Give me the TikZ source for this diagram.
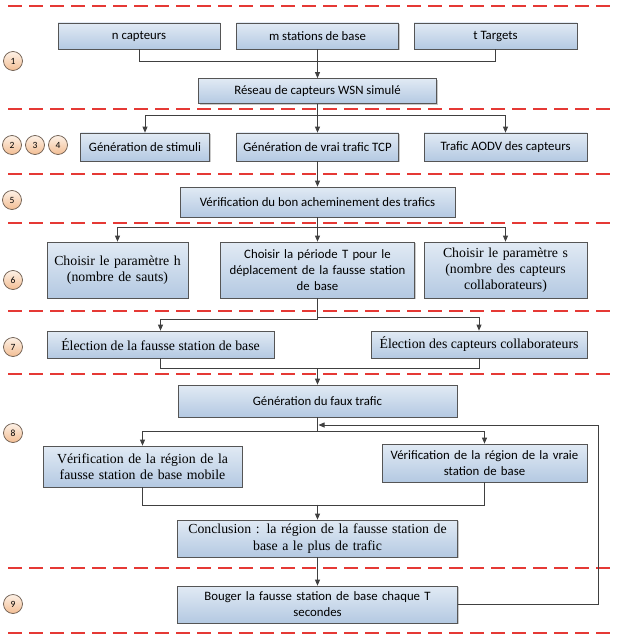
\documentclass[tikz,border=0pt]{standalone}
\usepackage{fontspec}
\setmainfont{Liberation Serif}
\newfontfamily\calfont{Carlito}
\usetikzlibrary{arrows.meta,shadows}
\definecolor{boxtop}{HTML}{E1EAF4}
\definecolor{boxbot}{HTML}{B4C9E2}
\definecolor{boxline}{HTML}{555555}
\definecolor{circtop}{HTML}{FDF1E6}
\definecolor{circbot}{HTML}{F3BE94}
\definecolor{circline}{HTML}{6B5B4E}
\definecolor{dashred}{HTML}{E53935}
\definecolor{conn}{HTML}{404040}
\begin{document}
\begin{tikzpicture}[x=1pt,y=-1pt,
  box/.style={draw=boxline,line width=0.7pt,top color=boxtop,bottom color=boxbot,
    inner sep=2pt,align=center,
    drop shadow={shadow xshift=1.2pt,shadow yshift=-1.2pt,opacity=0.35,fill=black!60}},
  sbox/.style={box,font=\calfont\fontsize{12.8}{16}\selectfont},
  rbox/.style={box,font=\fontsize{13.8}{16.3}\selectfont},
  num/.style={circle,draw=circline,line width=0.7pt,top color=circtop,bottom color=circbot,
    minimum size=19pt,inner sep=0pt,font=\calfont\fontsize{9.5}{10}\selectfont},
  sep/.style={draw=dashred,line width=1.6pt,dash pattern=on 14pt off 7pt},
  link/.style={draw=conn,line width=0.8pt},
  arr/.style={link,-{Triangle[length=6pt,width=5pt]}}]
\useasboundingbox (0,0) rectangle (618,639);
% separators
\foreach \yy in {6,109,174,223,311,374,568,633}
  \draw[sep] (8,\yy) -- (612,\yy);
% step numbers
\node[num] (c1) at (13,61) {1};
\node[num] (c2) at (12,145) {2};
\node[num] (c3) at (35,145) {3};
\node[num] (c4) at (58,145) {4};
\node[num] (c5) at (12,200) {5};
\node[num] (c6) at (13,280) {6};
\node[num] (c7) at (13,347) {7};
\node[num] (c8) at (13,433) {8};
\node[num] (c9) at (13,604) {9};
% boxes
\node[sbox,minimum width=162pt,minimum height=26pt] (nc) at (139,36) {n capteurs};
\node[sbox,minimum width=162pt,minimum height=26pt] (ms) at (317.5,36) {m stations de base};
\node[sbox,minimum width=163pt,minimum height=26pt] (tt) at (495.5,36) {t Targets};
\node[sbox,minimum width=238pt,minimum height=25pt] (res) at (317.5,91) {Réseau de capteurs WSN simulé};
\node[sbox,minimum width=129pt,minimum height=28pt] (stim) at (145,147) {Génération de stimuli};
\node[sbox,minimum width=162pt,minimum height=28pt] (tcp) at (317.5,147) {Génération de vrai trafic TCP};
\node[sbox,minimum width=163pt,minimum height=28pt] (aodv) at (505.5,147) {Trafic AODV des capteurs};
\node[sbox,minimum width=275pt,minimum height=30pt] (verif) at (317.5,202) {Vérification du bon acheminement des trafics};
\node[rbox,minimum width=141pt,minimum height=56pt,text width=137pt] (ph) at (117.5,270) {Choisir le paramètre h\\(nombre de sauts)};
\node[sbox,minimum width=194pt,minimum height=56pt,text width=190pt] (pt) at (317.5,270) {Choisir la période T pour le\\déplacement de la fausse station\\de base};
\node[rbox,minimum width=163pt,minimum height=56pt,text width=159pt] (ps) at (505.5,270) {Choisir le paramètre s\\(nombre des capteurs\\collaborateurs)};
\node[rbox,minimum width=227pt,minimum height=27pt] (ef) at (160.5,344.5) {Élection de la fausse station de base};
\node[rbox,minimum width=216pt,minimum height=27pt] (ec) at (479,344.5) {Élection des capteurs collaborateurs};
\node[sbox,minimum width=279pt,minimum height=32pt] (faux) at (317.5,401) {Génération du faux trafic};
\node[rbox,minimum width=199pt,minimum height=41pt,text width=195pt] (vf) at (142.5,466.5) {Vérification de la région de la\\fausse station de base mobile};
\node[sbox,minimum width=205pt,minimum height=38pt,text width=201pt] (vv) at (484.5,463) {Vérification de la région de la vraie\\station de base};
\node[rbox,minimum width=280pt,minimum height=37pt,text width=276pt] (conc) at (317.5,538.5) {Conclusion : la région de la fausse station de\\base a le plus de trafic};
\node[sbox,minimum width=280pt,minimum height=37pt,text width=276pt] (boug) at (317.5,604.5) {Bouger la fausse station de base chaque T\\secondes};
% connectors
\draw[link] (nc.south) -- ++(0,12) -| (tt.south);
\draw[arr] (ms.south) -- (res.north);
\draw[arr] (res.south) -- ++(0,12) -| (stim.north);
\draw[arr] (res.south) -- (tcp.north);
\draw[arr] (res.south) -- ++(0,12) -| (aodv.north);
\draw[arr] (tcp.south) -- (verif.north);
\draw[arr] (verif.south) -- ++(0,10) -| (ph.north);
\draw[arr] (verif.south) -- (pt.north);
\draw[arr] (verif.south) -- ++(0,10) -| (ps.north);
\draw[arr] (pt.south) -- ++(0,19) -| (ec.north);
\draw[arr] (pt.south) -- ++(0,21) -| (ef.north);
\draw[link] (ef.south) -- ++(0,10.5) -| (ec.south);
\path (faux.north) ++(0,-16.5) coordinate (j7);
\draw[arr] (j7) -- (faux.north);
\draw[arr] (faux.south) -- ++(0,14) -| (vf.north);
\draw[arr] (faux.south) -- ++(0,14) -| (vv.north);
\coordinate (fb) at (598,425);
\draw[arr] (boug.east) -| (fb) -- ([xshift=1pt]faux.south |- fb);
\draw[link] (vf.south) -- ++(0,18) -| (vv.south);
\path (conc.north) ++(0,-15) coordinate (j8);
\draw[arr] (j8) -- (conc.north);
\draw[arr] (conc.south) -- (boug.north);
\end{tikzpicture}
\end{document}
